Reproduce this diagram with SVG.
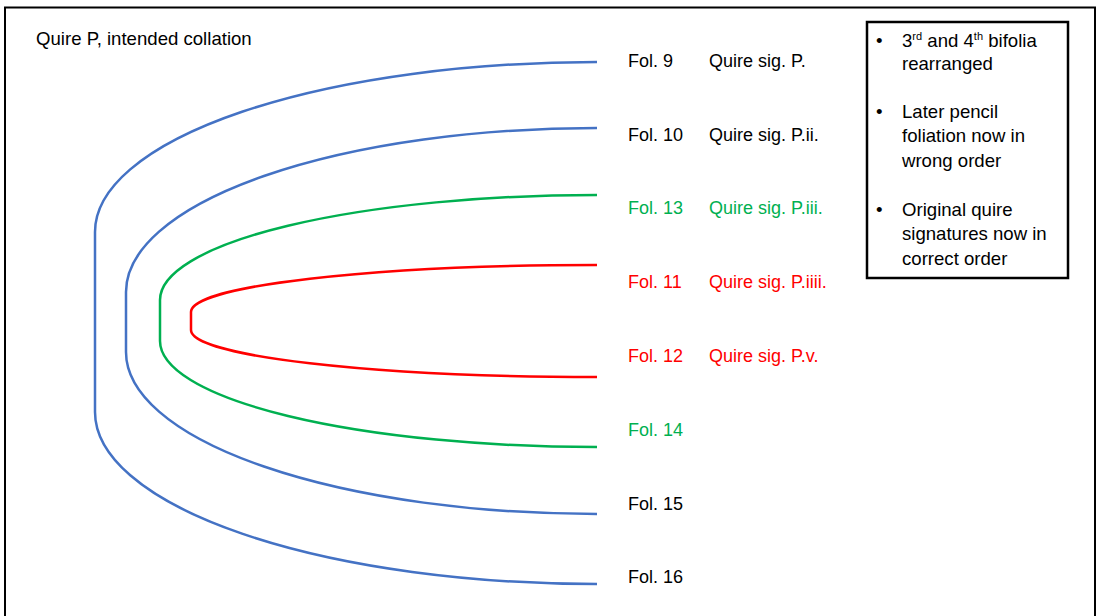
<svg xmlns="http://www.w3.org/2000/svg" width="1097" height="616" viewBox="0 0 1097 616">
<style>
text{font-family:"Liberation Sans",Arial,sans-serif;font-size:18.6px;fill:#000}
.s{font-size:18px}
.g{fill:#00B050}
.r{fill:#FF0000}
.c{fill:none;stroke-width:2.5}
.blue{stroke:#4472C4}
.green{stroke:#00B050}
.red{stroke:#FF0000}
</style>
<rect x="0" y="0" width="1097" height="616" fill="#fff"/>
<rect id="frame" x="5" y="7.5" width="1090" height="620" fill="none" stroke="#000" stroke-width="2"/>
<g id="title"><text x="36" y="45">Quire P, intended collation</text></g>
<g id="connectors">
<path class="c blue" d="M597,62 A502,170 0 0 0 95,232 L95,412 A502,172 0 0 0 597,584"/>
<path class="c blue" d="M597,128 A471,164 0 0 0 126,292 L126,352 A471,162 0 0 0 597,514"/>
<path class="c green" d="M597,195 A437,105 0 0 0 160,300 L160,341 A437,106 0 0 0 597,447"/>
<path class="c red" d="M597,265 A406,47 0 0 0 191,312 L191,330 A406,47 0 0 0 597,377"/>
</g>
<g id="fol9"><text class="s" x="628" y="67">Fol. 9</text><text class="s" x="709" y="67">Quire sig. P.</text></g>
<g id="fol10"><text class="s" x="628" y="141">Fol. 10</text><text class="s" x="709" y="141">Quire sig. P.ii.</text></g>
<g id="fol13"><text class="s g" x="628" y="214">Fol. 13</text><text class="s g" x="709" y="214">Quire sig. P.iii.</text></g>
<g id="fol11"><text class="s r" x="628" y="288">Fol. 11</text><text class="s r" x="709" y="288">Quire sig. P.iiii.</text></g>
<g id="fol12"><text class="s r" x="628" y="362">Fol. 12</text><text class="s r" x="709" y="362">Quire sig. P.v.</text></g>
<g id="fol14"><text class="s g" x="628" y="436">Fol. 14</text></g>
<g id="fol15"><text class="s" x="628" y="510">Fol. 15</text></g>
<g id="fol16"><text class="s" x="628" y="583">Fol. 16</text></g>
<g id="notes">
<rect x="867" y="22" width="201" height="256" fill="#fff" stroke="#000" stroke-width="2.5"/>
<text x="876" y="47">•</text>
<text x="902" y="47">3<tspan font-size="11" dy="-7">rd</tspan><tspan dy="7"> and 4</tspan><tspan font-size="11" dy="-7">th</tspan><tspan dy="7"> bifolia</tspan></text>
<text x="902" y="70">rearranged</text>
<text x="876" y="118">•</text>
<text x="902" y="118">Later pencil</text>
<text x="902" y="142">foliation now in</text>
<text x="902" y="167">wrong order</text>
<text x="876" y="216">•</text>
<text x="902" y="216">Original quire</text>
<text x="902" y="240">signatures now in</text>
<text x="902" y="265">correct order</text>
</g>
</svg>
